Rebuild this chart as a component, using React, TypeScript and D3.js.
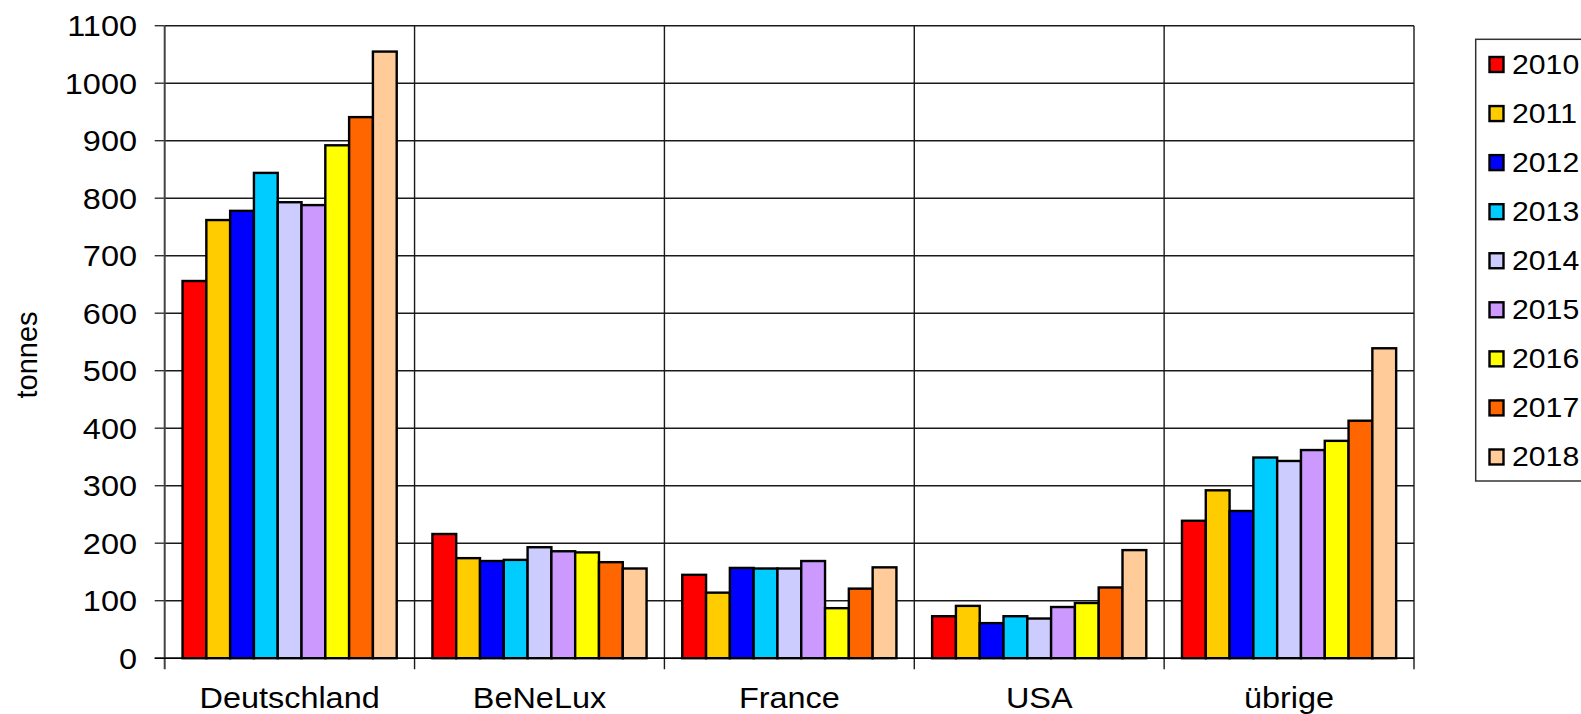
import React from "react";
import * as d3 from "d3";

const categories = ["Deutschland", "BeNeLux", "France", "USA", "übrige"];
const years = ["2010", "2011", "2012", "2013", "2014", "2015", "2016", "2017", "2018"];
const colors = ["#FF0000", "#FFCC00", "#0000FF", "#00CCFF", "#CCCCFF", "#CC99FF", "#FFFF00", "#FF6600", "#FFCC99"];
// values[category][year]
const deutschland = [656, 762, 778, 844, 793, 788, 892, 941, 1055];
const benelux = [216, 174, 169, 171, 193, 186, 184, 167, 156];
const france = [145, 114, 157, 156, 156, 169, 87, 121, 158];
const usa = [73, 91, 61, 73, 69, 89, 96, 123, 188];
const uebrige = [239, 292, 256, 349, 343, 362, 378, 413, 539];
const seriesByCategory = [deutschland, benelux, france, usa, uebrige];
const yTicks = [0, 100, 200, 300, 400, 500, 600, 700, 800, 900, 1000, 1100];
const yLabel = "tonnes";

const W = 1581;
const H = 714;
const plot = { left: 164.7, right: 1414, top: 25.7, bottom: 658.2 };
const SX = 1.1;
const FONT = "Arial, 'Liberation Sans', Helvetica, sans-serif";

export default function App() {
  const x = d3.scaleBand<string>().domain(categories).range([plot.left, plot.right]).paddingInner(0).paddingOuter(0);
  const xi = d3.scaleBand<string>().domain(years).range([0, x.bandwidth()]).paddingInner(0).paddingOuter(0.75);
  const y = d3.scaleLinear().domain([0, 1100]).range([plot.bottom, plot.top]);

  const boundaries = categories.map((c) => (x(c) as number) + x.bandwidth());

  const legendTop = 39.3;
  const legendStep = 49.06;

  return (
    <svg width={W} height={H} style={{ position: "absolute", left: 0, top: 0, background: "#fff" }} fontFamily={FONT}>
      <rect x={0} y={0} width={W} height={H} fill="#fff" />
      {/* horizontal gridlines + y ticks */}
      {yTicks.map((t) => (
        <g key={t}>
          <line x1={plot.left} x2={plot.right} y1={y(t)} y2={y(t)} stroke="#1a1a1a" strokeWidth={1.4} />
          <line x1={plot.left - 10} x2={plot.left} y1={y(t)} y2={y(t)} stroke="#333" strokeWidth={1.4} />
          <text
            transform={`translate(137,${y(t) + 10.5}) scale(${SX},1)`}
            textAnchor="end"
            fontSize={29.5}
            fill="#000"
          >
            {t}
          </text>
        </g>
      ))}
      {/* vertical category boundaries */}
      {boundaries.map((bx, i) => (
        <line key={i} x1={bx} x2={bx} y1={plot.top} y2={plot.bottom + 11} stroke="#1a1a1a" strokeWidth={1.4} />
      ))}
      {/* left axis */}
      <line x1={plot.left} x2={plot.left} y1={plot.top} y2={plot.bottom + 11} stroke="#444" strokeWidth={2} />
      {/* bars */}
      {categories.map((c, ci) => (
        <g key={c} transform={`translate(${x(c)},0)`}>
          {years.map((yr, yi) => {
            const v = seriesByCategory[ci][yi];
            return (
              <rect
                key={yr}
                x={xi(yr)}
                y={y(v)}
                width={xi.bandwidth()}
                height={y(0) - y(v)}
                fill={colors[yi]}
                stroke="#000"
                strokeWidth={2.4}
              />
            );
          })}
        </g>
      ))}
      {/* zero line on top */}
      <line x1={plot.left - 10} x2={plot.right} y1={y(0)} y2={y(0)} stroke="#000" strokeWidth={1.6} />
      {/* x labels */}
      {categories.map((c) => (
        <text
          key={c}
          transform={`translate(${(x(c) as number) + x.bandwidth() / 2},708) scale(${1.08},1)`}
          textAnchor="middle"
          fontSize={30}
          fill="#000"
        >
          {c}
        </text>
      ))}
      {/* y axis title */}
      <text transform={`translate(37,355) rotate(-90)`} textAnchor="middle" fontSize={29} fill="#000">
        {yLabel}
      </text>
      {/* legend */}
      <rect x={1475.7} y={legendTop} width={130} height={441.7} fill="#fff" stroke="#333" strokeWidth={1.5} />
      {years.map((yr, i) => {
        const cy = 64.5 + i * legendStep;
        return (
          <g key={yr}>
            <rect x={1489.5} y={cy - 7.5} width={14} height={15} fill={colors[i]} stroke="#000" strokeWidth={2.4} />
            <text transform={`translate(1512,${cy + 9.5}) scale(1.12,1)`} fontSize={27} fill="#000">
              {yr}
            </text>
          </g>
        );
      })}
    </svg>
  );
}
